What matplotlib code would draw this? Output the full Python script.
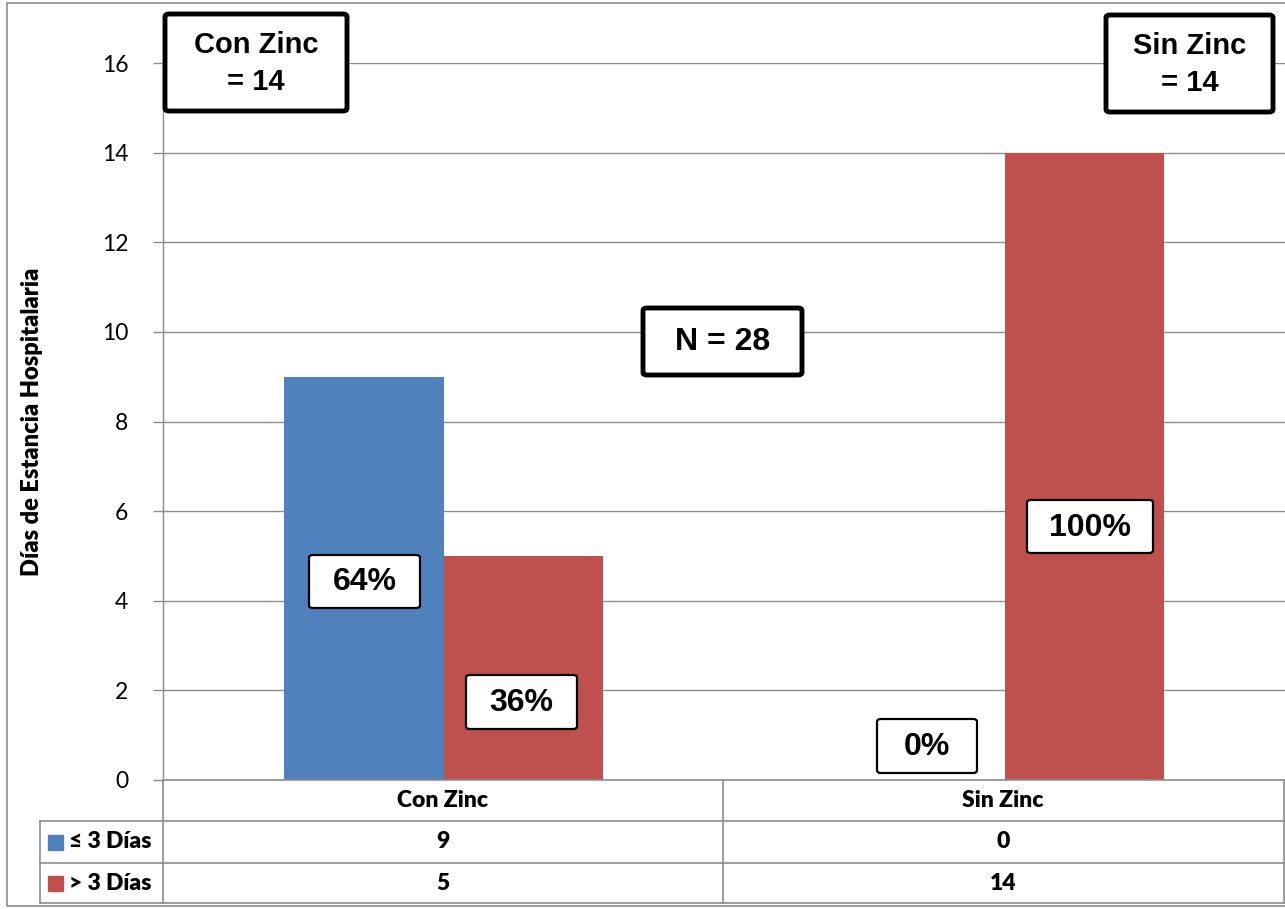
import matplotlib
matplotlib.use("Agg")
import matplotlib.pyplot as plt
from matplotlib.patches import FancyBboxPatch, Rectangle
from matplotlib.lines import Line2D

# Data
categories = ["Con Zinc", "Sin Zinc"]
series_names = ["\u2264 3 D\u00edas", "> 3 D\u00edas"]
le3_dias = [9, 0]
gt3_dias = [5, 14]
y_ticks = [0, 2, 4, 6, 8, 10, 12, 14, 16]
y_label = "D\u00edas de Estancia Hospitalaria"

BLUE = "#4F81BD"
RED = "#C0504D"
GRID = "#8C8C8C"

W, H = 1285, 909
fig = plt.figure(figsize=(W / 100, H / 100), dpi=100)


def fx(px):
    return px / W


def fy(py):
    return 1 - py / H


ax_left, ax_right, ax_top, ax_bot = 163, 1285, 63, 780
ax = fig.add_axes([fx(ax_left), fy(ax_bot), fx(ax_right - ax_left), (ax_bot - ax_top) / H])
ax.set_xlim(-0.5, 1.5)
ax.set_ylim(0, 16)

x = list(range(len(categories)))
bw = 0.285
ax.bar([i - bw / 2 for i in x], le3_dias, width=bw, color=BLUE, zorder=3)
ax.bar([i + bw / 2 for i in x], gt3_dias, width=bw, color=RED, zorder=3)

ax.set_yticks(y_ticks)
ax.set_yticklabels([str(t) for t in y_ticks], fontfamily="Lato", fontsize=16.5)
ax.tick_params(axis="y", length=7, width=1, color=GRID, pad=18, direction="out")
ax.set_xticks([])
ax.yaxis.grid(True, color=GRID, linewidth=1)
ax.set_axisbelow(True)
for side in ["top", "right", "bottom"]:
    ax.spines[side].set_visible(False)
ax.spines["left"].set_color(GRID)
ax.spines["left"].set_linewidth(1)

fig.text(fx(32), fy(422), y_label, rotation=90, ha="center", va="center",
         fontfamily="Lato", fontweight="heavy", fontsize=17)

# Chart outer border
fig.add_artist(Rectangle((fx(7), fy(906)), fx(1285), (906 - 3) / H, transform=fig.transFigure,
                         fill=False, edgecolor=GRID, linewidth=1.2))

# Data table below the plot
rows = [780, 821, 863, 903]
tbl_left, tbl_div, tbl_right = 40, 163, 1284
col_div = 723
lw = 1.2
fig.add_artist(Line2D([fx(tbl_div), fx(tbl_right)], [fy(rows[0])] * 2, color=GRID, lw=lw))
for r in rows[1:]:
    fig.add_artist(Line2D([fx(tbl_left), fx(tbl_right)], [fy(r)] * 2, color=GRID, lw=lw))
fig.add_artist(Line2D([fx(tbl_left)] * 2, [fy(rows[1]), fy(rows[3])], color=GRID, lw=lw))
fig.add_artist(Line2D([fx(tbl_div)] * 2, [fy(rows[0]), fy(rows[3])], color=GRID, lw=lw))
fig.add_artist(Line2D([fx(col_div)] * 2, [fy(rows[0]), fy(rows[3])], color=GRID, lw=lw))
fig.add_artist(Line2D([fx(tbl_right)] * 2, [fy(rows[0]), fy(rows[3])], color=GRID, lw=lw))

tfont = dict(fontfamily="Lato", fontweight="heavy", fontsize=16.5)
col_centers = [443, 1003]
for cx, name in zip(col_centers, categories):
    fig.text(fx(cx), fy((rows[0] + rows[1]) / 2), name, ha="center", va="center", **tfont)
for ri, (vals, color, name) in enumerate(zip([le3_dias, gt3_dias], [BLUE, RED], series_names)):
    yc = (rows[ri + 1] + rows[ri + 2]) / 2
    fig.add_artist(Rectangle((fx(48), fy(yc + 8)), fx(15), 15 / H, transform=fig.transFigure,
                             color=color))
    fig.text(fx(69), fy(yc), name, ha="left", va="center", **tfont)
    for cx, v in zip(col_centers, vals):
        fig.text(fx(cx), fy(yc), str(v), ha="center", va="center", **tfont)


def boxed(x0, y0, x1, y1, text, size, lw_box, ls=1.3):
    fig.add_artist(FancyBboxPatch((fx(x0), fy(y1)), fx(x1 - x0), (y1 - y0) / H,
                                  boxstyle="round,pad=0,rounding_size=0.003",
                                  transform=fig.transFigure, facecolor="white",
                                  edgecolor="black", linewidth=lw_box, zorder=5))
    fig.text(fx((x0 + x1) / 2), fy((y0 + y1) / 2 + 1), text, ha="center", va="center",
             fontfamily="Liberation Sans", fontweight="bold", fontsize=size,
             linespacing=ls, zorder=6)


totals = [a + b for a, b in zip(le3_dias, gt3_dias)]
boxed(165, 14, 347, 111, f"{categories[0]}\n= {totals[0]}", 21, 3.5, ls=1.45)
boxed(1106, 15, 1273, 112, f"{categories[1]}\n= {totals[1]}", 21, 3.5, ls=1.45)
boxed(643, 308, 802, 375, f"N = {sum(totals)}", 23, 3.5)

# Percentage labels, computed from the series within each group
pct_boxes = [
    ((309, 555, 420, 608), le3_dias[0], totals[0]),
    ((466, 675, 577, 729), gt3_dias[0], totals[0]),
    ((877, 719, 977, 773), le3_dias[1], totals[1]),
    ((1027, 500, 1153, 553), gt3_dias[1], totals[1]),
]
for (x0, y0, x1, y1), v, t in pct_boxes:
    boxed(x0, y0, x1, y1, f"{round(100 * v / t)}%", 23, 1.6)

fig.savefig("out.png", dpi=100, facecolor="white")
